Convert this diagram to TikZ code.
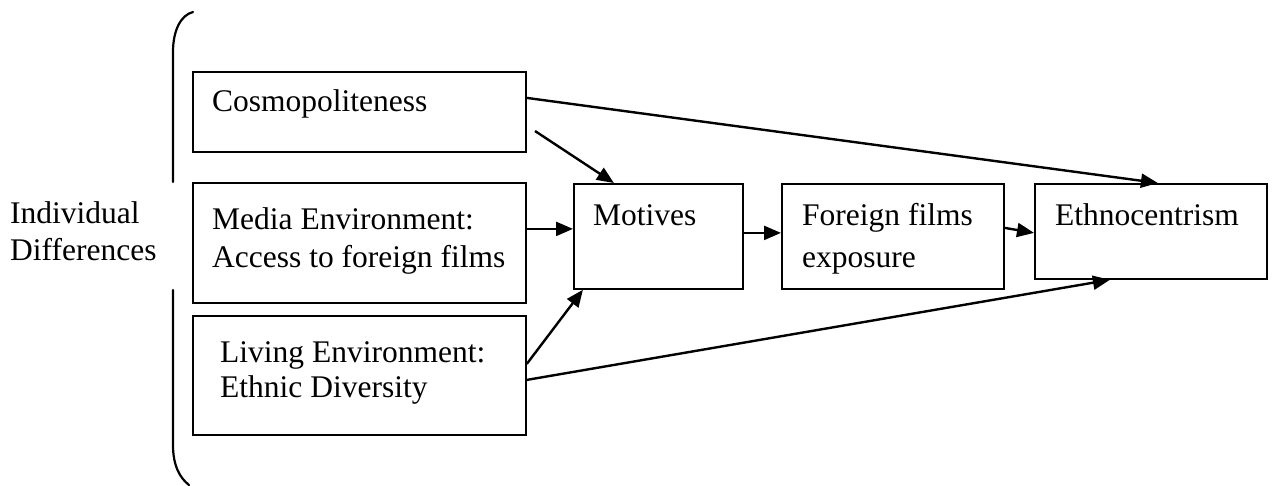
\documentclass[tikz,border=0pt]{standalone}
\usepackage{fontspec}
\setmainfont{Liberation Serif}
\usetikzlibrary{arrows.meta}
\tikzset{
  box/.style={draw, line width=1.8pt, inner sep=0pt, anchor=north west},
  txt/.style={inner sep=0pt, anchor=base west, font=\fontsize{31.5}{36}\selectfont},
  arr/.style={line width=2.4pt, -{Triangle[length=17pt,width=14pt]}},
  brk/.style={line width=2.2pt, line cap=round}
}
\begin{document}
\begin{tikzpicture}[x=1pt,y=-1pt]
\useasboundingbox (0,0) rectangle (1272,485);
% boxes
\node[box, minimum width=333pt, minimum height=80pt]  (cosmo)   at (192,71)  {};
\node[box, minimum width=333pt, minimum height=120pt] (media)   at (192,182) {};
\node[box, minimum width=333pt, minimum height=119pt] (living)  at (192,315) {};
\node[box, minimum width=169pt, minimum height=105pt] (motives) at (573,183) {};
\node[box, minimum width=222pt, minimum height=105pt] (foreign) at (781,183) {};
\node[box, minimum width=232pt, minimum height=95pt]  (ethno)   at (1034,183) {};
% texts
\node[txt] (cosmoT)  at (212,111) {Cosmopoliteness};
\node[txt] (mediaT1) at (212,229) {Media Environment:};
\node[txt] (mediaT2) at (212,267) {Access to foreign films};
\node[txt] (livT1)   at (220,362) {Living Environment:};
\node[txt] (livT2)   at (220,397) {Ethnic Diversity};
\node[txt] (motT)    at (593,225) {Motives};
\node[txt] (forT1)   at (802,225) {Foreign films};
\node[txt] (forT2)   at (802,267) {exposure};
\node[txt] (ethT)    at (1055,225) {Ethnocentrism};
\node[txt] (ind1)    at (10,223) {Individual};
\node[txt] (ind2)    at (10,260) {Differences};
% bracket
\draw[brk] (193,12) .. controls (181,15) and (173,30) .. (173,52) -- (173,182);
\draw[brk] (173,290) -- (173,445) .. controls (173,466) and (180,478) .. (189,485);
% arrows
\coordinate (cfree) at (535,131);
\draw[arr] ([yshift=14pt]cosmo.east) -- ([xshift=7pt]ethno.north);
\draw[arr] (cfree) -- ([xshift=-44.5pt]motives.north);
\draw[arr] ([yshift=14pt]media.east) -- ([yshift=7.5pt]motives.west);
\draw[arr] ([yshift=11.5pt]living.east) -- ([xshift=-75.5pt]motives.south);
\draw[arr] ([yshift=-4.5pt]living.east) -- ([xshift=-41pt]ethno.south);
\draw[arr] ([yshift=3.5pt]motives.east) -- ([yshift=3.5pt]foreign.west);
\draw[arr] ([yshift=8.5pt]foreign.east) -- ([yshift=-1.5pt]ethno.west);
\end{tikzpicture}
\end{document}
